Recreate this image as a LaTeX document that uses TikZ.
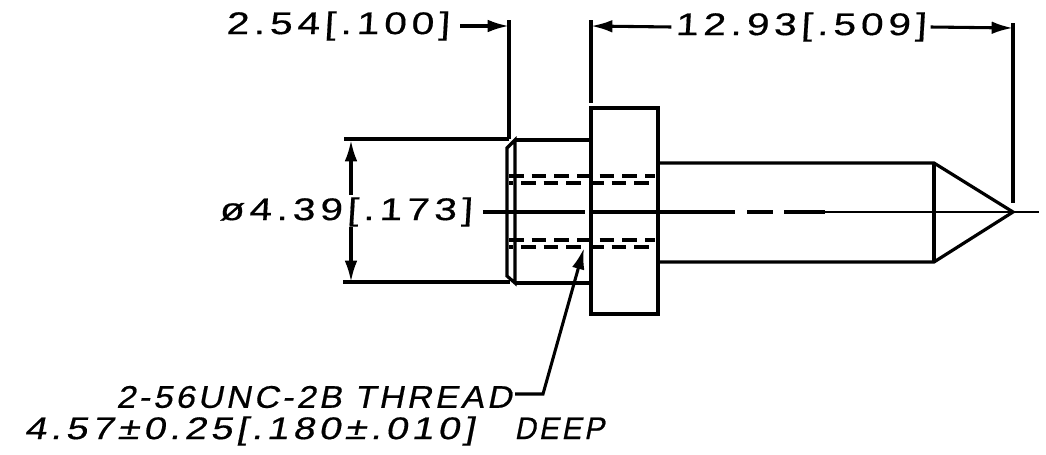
\documentclass[tikz,border=0pt]{standalone}
\usepackage{fontspec}
\usepackage{xcolor}
\usetikzlibrary{arrows.meta,positioning,calc}
\newfontfamily\dimfont[FakeSlant=0.06,FakeStretch=1.3,LetterSpace=15,FakeBold=0.5]{Liberation Sans}
\newfontfamily\notefont[FakeSlant=0.2,FakeStretch=1.25,LetterSpace=13.5,FakeBold=0.5]{Liberation Sans}
\newfontfamily\capsfont[FakeSlant=0.2,FakeStretch=1.1,LetterSpace=10,FakeBold=0.5]{Liberation Sans}
\newfontfamily\deepfont[FakeSlant=0.2,FakeStretch=0.95,LetterSpace=9,FakeBold=0.5]{Liberation Sans}
\begin{document}
\begin{tikzpicture}[
    x=0.75pt, y=-0.75pt,
    part/.style={line width=2.4pt, line join=miter},
    extline/.style={line width=2.3pt},
    hidden/.style={line width=2.4pt, dash pattern=on 11pt off 6pt},
    centerline/.style={line width=2.3pt},
    arrow/.style={-{Latex[length=16pt, width=9.5pt]}, line width=2.3pt},
    dimlabel/.style={inner sep=0pt, font=\dimfont\fontsize{23.5}{28}\selectfont},
    notelabel/.style={inner sep=0pt, font=\capsfont\fontsize{23.5}{28}\selectfont}
]
    \useasboundingbox (0,0) rectangle (1046,454);

    % Labels
    \node[dimlabel] (lipdim) at (338,26) {2.54[.100]};
    \node[dimlabel] (lendim) at (801,27) {12.93[.509]};
    \node[dimlabel] (diadim) at (346,212) {ø4.39[.173]};
    \node[notelabel, anchor=east] (thread) at (512,397) {2-56UNC-2B THREAD};
    \node[notelabel, anchor=west] (deep) at (24,431) {{\notefont 4.57±0.25[.180±.010]}\hspace{30pt}{\deepfont DEEP}};

    % Stud outline
    \draw[part] (515,140) -- (507,148) -- (507,276) -- (515,283) -- cycle;
    \draw[part] (515,140) -- (591,140);
    \draw[part] (515,283) -- (591,283);
    \draw[part] (591,108) rectangle (658,314);
    \draw[part] (658,163) -- (934,163) -- (1013,212) -- (934,262) -- (658,262);
    \draw[part] (934,163) -- (934,262);

    % Thread, hidden
    \draw[hidden] (509,176) -- (655,176);
    \draw[hidden, dash phase=8pt] (509,183) -- (655,183);
    \draw[hidden] (509,240) -- (655,240);
    \draw[hidden, dash phase=8pt] (509,247) -- (655,247);

    % Extension lines
    \coordinate (liptop) at (509,20);
    \coordinate (lipbot) at (509,139);
    \coordinate (flgtop) at (591,20);
    \coordinate (flgbot) at (591,103);
    \coordinate (tiptop) at (1013,23);
    \coordinate (tipbot) at (1013,203);
    \coordinate (diaup) at (344,139);
    \coordinate (diaupend) at (509,139);
    \coordinate (dialow) at (343,282);
    \coordinate (dialowend) at (510,282);
    \draw[extline] (liptop) -- (lipbot);
    \draw[extline] (flgtop) -- (flgbot);
    \draw[extline] (tiptop) -- (tipbot);
    \draw[extline] (diaup) -- (diaupend);
    \draw[extline] (dialow) -- (dialowend);

    % Centre line
    \coordinate (axisa) at (585,212);
    \coordinate (axisb) at (735,212);
    \coordinate (axisc) at (747,212);
    \coordinate (axisd) at (773,212);
    \coordinate (axise) at (784,212);
    \coordinate (axisf) at (825,212);
    \coordinate (axisend) at (1039,212);
    \draw[centerline] (diadim.east) ++(10,0) -- (axisa);
    \draw[centerline] (592,212) -- (axisb);
    \draw[centerline] (axisc) -- (axisd);
    \draw[centerline] (axise) -- (axisf);
    \draw[line width=1.3pt] (axisf) -- (axisend);

    % Dimension arrows
    \coordinate (lipend) at (509,26);
    \coordinate (flgend) at (591,26);
    \coordinate (tipend) at (1013,28);
    \coordinate (diatip) at (351,140);
    \coordinate (diabot) at (351,282);
    \coordinate (diagapa) at (351,195);
    \coordinate (diagapb) at (351,227);
    \draw[arrow] (lipdim.east) ++(10,0) -- (lipend);
    \draw[arrow] (lendim.west) ++(-4,0) -- (flgend);
    \draw[arrow] (lendim.east) ++(4,0) -- (tipend);
    \draw[arrow] (diagapa) -- (diatip);
    \draw[arrow] (diagapb) -- (diabot);

    % Thread leader
    \coordinate (leadtip) at (584,248);
    \coordinate (leadknee) at (543,394);
    \draw[arrow] (thread.east) ++(3,-3) -- (leadknee) -- (leadtip);
\end{tikzpicture}
\end{document}
